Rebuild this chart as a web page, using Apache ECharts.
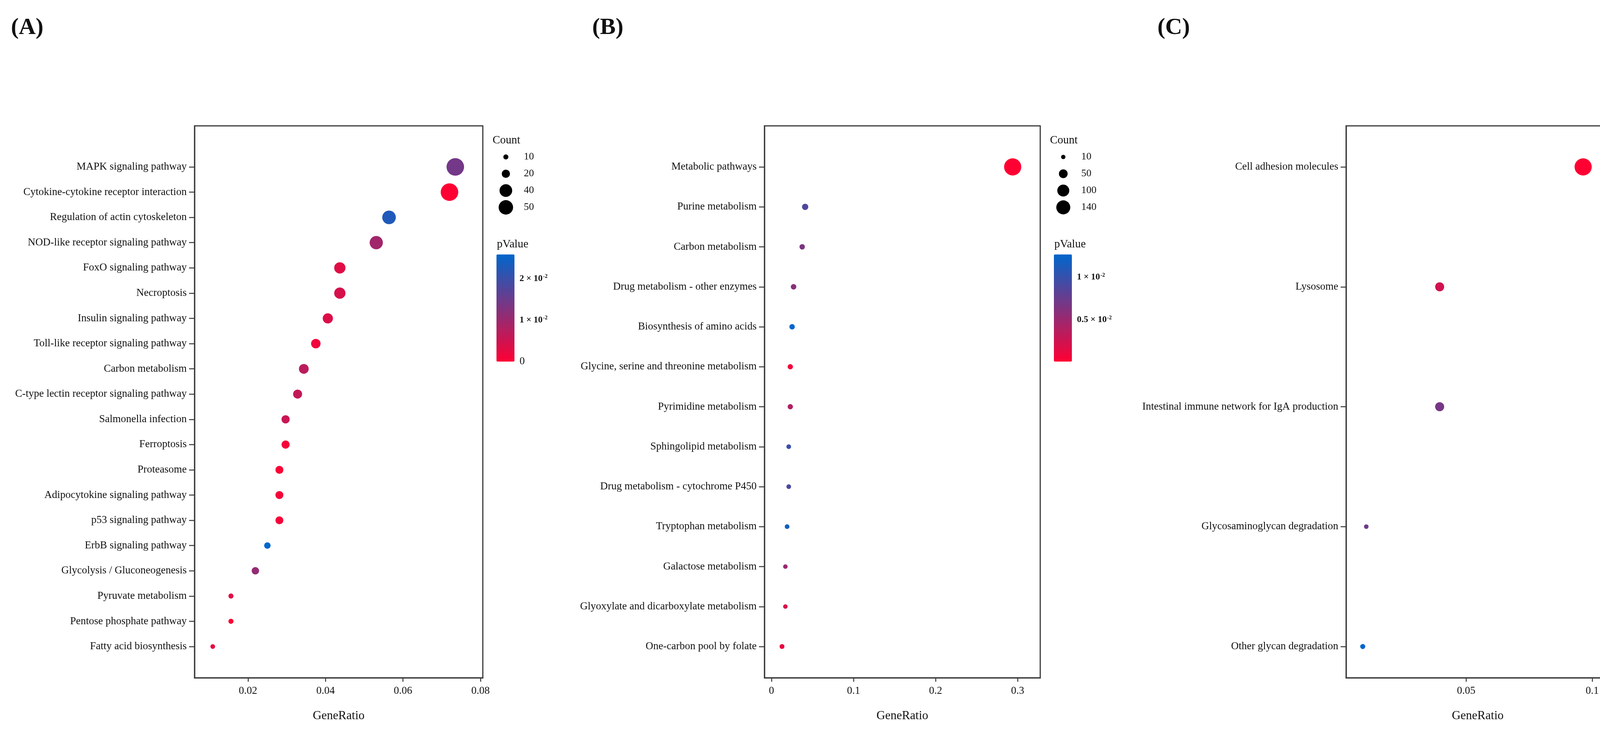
<!DOCTYPE html>
<html>
<head>
<meta charset="utf-8">
<title>KEGG enrichment dotplots</title>
<script src="https://cdn.jsdelivr.net/npm/echarts@6/dist/echarts.min.js"></script>
<style>
html, body { margin: 0; padding: 0; background: #fff; }
#main { width: 4338px; height: 1865px; }
</style>
</head>
<body>
<div id="main"></div>
<script>
// ---- panel A ----
var catsA = ['MAPK signaling pathway', 'Cytokine-cytokine receptor interaction', 'Regulation of actin cytoskeleton',
  'NOD-like receptor signaling pathway', 'FoxO signaling pathway', 'Necroptosis', 'Insulin signaling pathway',
  'Toll-like receptor signaling pathway', 'Carbon metabolism', 'C-type lectin receptor signaling pathway',
  'Salmonella infection', 'Ferroptosis', 'Proteasome', 'Adipocytokine signaling pathway', 'p53 signaling pathway',
  'ErbB signaling pathway', 'Glycolysis / Gluconeogenesis', 'Pyruvate metabolism', 'Pentose phosphate pathway',
  'Fatty acid biosynthesis'];
var ratioA = [0.0735, 0.0720, 0.0564, 0.0531, 0.0437, 0.0437, 0.0406, 0.0375, 0.0344, 0.0328,
  0.0297, 0.0297, 0.0281, 0.0281, 0.0281, 0.0250, 0.0219, 0.0156, 0.0156, 0.0109];
var countA = [70, 70, 45, 43, 33, 33, 28, 25, 26, 23, 20, 20, 19, 19, 19, 14, 17, 10, 10, 9];
var pvalA = [0.0142, 0, 0.0227, 0.0095, 0.0031, 0.0041, 0.0035, 0.0015, 0.0070, 0.0061,
  0.0056, 0.0010, 0.0005, 0.0010, 0.0010, 0.0258, 0.0108, 0.0030, 0.0005, 0.0023];
var xTicksA = [0.02, 0.04, 0.06, 0.08];
var sizeBreaksA = [10, 20, 40, 50];
var pTicksA = [0, 0.01, 0.02];
var pTickLabelsA = ['0', '1 × 10^-2', '2 × 10^-2'];

// ---- panel B ----
var catsB = ['Metabolic pathways', 'Purine metabolism', 'Carbon metabolism', 'Drug metabolism - other enzymes',
  'Biosynthesis of amino acids', 'Glycine, serine and threonine metabolism', 'Pyrimidine metabolism',
  'Sphingolipid metabolism', 'Drug metabolism - cytochrome P450', 'Tryptophan metabolism',
  'Galactose metabolism', 'Glyoxylate and dicarboxylate metabolism', 'One-carbon pool by folate'];
var ratioB = [0.294, 0.041, 0.0374, 0.0269, 0.0251, 0.0229, 0.0229, 0.021, 0.021, 0.019, 0.0169, 0.0169, 0.0128];
var countB = [215, 24, 17, 18, 17, 16, 16, 12, 12, 12, 11, 11, 13];
var pvalB = [0.00012, 0.0088, 0.0066, 0.0059, 0.01266, 0.00085, 0.0040, 0.0098, 0.0090, 0.0117, 0.0051, 0.0020, 0.0012];
var xTicksB = [0, 0.1, 0.2, 0.3];
var sizeBreaksB = [10, 50, 100, 140];
var pTicksB = [0.005, 0.01];
var pTickLabelsB = ['0.5 × 10^-2', '1 × 10^-2'];

// ---- panel C ----
var catsC = ['Cell adhesion molecules', 'Lysosome', 'Intestinal immune network for IgA production',
  'Glycosaminoglycan degradation', 'Other glycan degradation'];
var ratioC = [0.0964, 0.0395, 0.0395, 0.0104, 0.0090];
var countC = [116, 33, 33, 9, 11];
var pvalC = [0.0007, 0.0013, 0.0025, 0.0026, 0.00405];
var xTicksC = [0.05, 0.1];
var sizeBreaksC = [10, 30, 60, 80];
var pTicksC = [0.001, 0.002, 0.003, 0.004];
var pTickLabelsC = ['1 × 10^-3', '2 × 10^-3', '3 × 10^-3', '4 × 10^-3'];

var FONT = '"Liberation Serif", "Times New Roman", serif';
var INK = '#111111';
var FRAME = '#3a3a3a';
var LOW = '#FF0033', HIGH = '#0066CC';
var PLOT_TOP = 322, PLOT_H = 1412, PAD_TOP = 105, PAD_BOTTOM = 80;

// layout + size scale (diameter = a + b*sqrt(count)) per panel
var panels = [
  { tag: '(A)', tagLeft: 28, left: 498, right: 1236, xMin: 0.0062, xMax: 0.0806,
    cats: catsA, ratio: ratioA, count: countA, pval: pvalA, xTicks: xTicksA,
    breaks: sizeBreaksA, pTicks: pTicksA, pLabels: pTickLabelsA, sa: -6.4, sb: 6.14 },
  { tag: '(B)', tagLeft: 1516, left: 1957, right: 2663, xMin: -0.0086, xMax: 0.3276,
    cats: catsB, ratio: ratioB, count: countB, pval: pvalB, xTicks: xTicksB,
    breaks: sizeBreaksB, pTicks: pTicksB, pLabels: pTickLabelsB, sa: 2.11, sb: 2.855 },
  { tag: '(C)', tagLeft: 2963, left: 3446, right: 4120, xMin: 0.0024, xMax: 0.1068,
    cats: catsC, ratio: ratioC, count: countC, pval: pvalC, xTicks: xTicksC,
    breaks: sizeBreaksC, pTicks: pTicksC, pLabels: pTickLabelsC, sa: -0.77, sb: 4.148 }
];

var option = {
  backgroundColor: '#ffffff',
  animation: false,
  title: [], grid: [], xAxis: [], yAxis: [], series: [], visualMap: []
};

function txt(size, weight) {
  return { fontFamily: FONT, fontSize: size, fontWeight: weight || 'normal', color: INK };
}

panels.forEach(function (p) {
  var n = p.cats.length;
  var spacing = (PLOT_H - PAD_TOP - PAD_BOTTOM) / (n - 1);
  var idx = p.cats.map(function (c, i) { return i; });
  var R = p.right;
  var sizeFn = function (c) { return p.sa + p.sb * Math.sqrt(c); };
  var pMin = Math.min.apply(null, p.pval), pMax = Math.max.apply(null, p.pval);

  option.title.push(
    { text: p.tag, left: p.tagLeft, top: 41, padding: 0, textStyle: txt(60, 'bold') },
    { text: 'Count', left: R + 25, top: 345, padding: 0, textStyle: txt(29) },
    { text: 'pValue', left: R + 36, top: 611, padding: 0, textStyle: txt(29) }
  );

  // main plot
  var g = option.grid.length;
  option.grid.push({ left: p.left, top: PLOT_TOP, width: R - p.left, height: PLOT_H,
    show: true, borderColor: FRAME, borderWidth: 3, backgroundColor: 'transparent' });
  option.xAxis.push({
    gridIndex: g, type: 'value', min: p.xMin, max: p.xMax,
    name: 'GeneRatio', nameLocation: 'middle', nameGap: 82, nameTextStyle: txt(31),
    axisLine: { show: true, onZero: false, lineStyle: { color: FRAME, width: 3 } },
    axisTick: { show: true, length: 10, customValues: p.xTicks, lineStyle: { color: FRAME, width: 2.5 } },
    axisLabel: { customValues: p.xTicks, margin: 20, formatter: function (v) { return String(v); }, fontFamily: FONT, fontSize: 27, color: INK },
    splitLine: { show: false }
  });
  option.yAxis.push({
    gridIndex: g, type: 'value', inverse: true,
    min: -PAD_TOP / spacing, max: (n - 1) + PAD_BOTTOM / spacing,
    axisLine: { show: true, onZero: false, lineStyle: { color: FRAME, width: 3 } },
    axisTick: { show: true, length: 14, customValues: idx, lineStyle: { color: FRAME, width: 2.5 } },
    axisLabel: { customValues: idx, margin: 20, formatter: function (v) { return p.cats[Math.round(v)]; },
      fontFamily: FONT, fontSize: 27, color: INK },
    splitLine: { show: false }
  });
  var sIdx = option.series.length;
  option.series.push({
    type: 'scatter', xAxisIndex: g, yAxisIndex: g,
    data: p.cats.map(function (c, i) { return [p.ratio[i], i, p.count[i], p.pval[i], c]; }),
    symbolSize: function (val) { return sizeFn(val[2]); },
    itemStyle: { opacity: 1 }
  });
  option.visualMap.push({
    type: 'continuous', seriesIndex: sIdx, dimension: 3, min: pMin, max: pMax,
    inRange: { color: [LOW, HIGH] }, calculable: false, hoverLink: false,
    left: R + 35, top: 651, itemWidth: 46, itemHeight: 274, padding: 0
  });

  // size legend
  var gl = option.grid.length;
  var bIdx = p.breaks.map(function (b, i) { return i; });
  option.grid.push({ left: R + 21, top: 380, width: 76, height: 172 });
  option.xAxis.push({ gridIndex: gl, type: 'value', min: 0, max: 1, show: false });
  option.yAxis.push({
    gridIndex: gl, type: 'value', inverse: true, min: -0.5, max: p.breaks.length - 0.5, position: 'right',
    axisLine: { show: false }, axisTick: { show: false }, splitLine: { show: false },
    axisLabel: { customValues: bIdx, margin: 8, formatter: function (v) { return String(p.breaks[Math.round(v)]); },
      fontFamily: FONT, fontSize: 26, color: INK }
  });
  option.series.push({
    type: 'scatter', xAxisIndex: gl, yAxisIndex: gl, silent: true,
    data: p.breaks.map(function (b, i) { return [0.5, i, b]; }),
    symbolSize: function (val) { return sizeFn(val[2]); },
    itemStyle: { color: '#000000', opacity: 1 }
  });

  // colorbar tick labels
  var gc = option.grid.length;
  option.grid.push({ left: R + 80, top: 651, width: 2, height: 274 });
  option.xAxis.push({ gridIndex: gc, type: 'value', min: 0, max: 1, show: false });
  option.yAxis.push({
    gridIndex: gc, type: 'value', min: pMin, max: pMax, position: 'right',
    axisLine: { show: false }, axisTick: { show: false }, splitLine: { show: false },
    axisLabel: {
      customValues: p.pTicks, margin: 12, showMinLabel: true, showMaxLabel: true,
      formatter: function (v) {
        var k = 0;
        p.pTicks.forEach(function (t, i) { if (Math.abs(t - v) < 1e-12) k = i; });
        var parts = p.pLabels[k].split('^');
        if (parts.length < 2) return '{z|' + parts[0] + '}';
        return '{m|' + parts[0] + '}{s|' + parts[1] + '}';
      },
      rich: {
        z: { fontFamily: FONT, fontSize: 27, color: INK },
        m: { fontFamily: FONT, fontSize: 23, fontWeight: 'bold', color: INK },
        s: { fontFamily: FONT, fontSize: 14, fontWeight: 'bold', color: INK, verticalAlign: 'top', padding: [0, 0, 10, 1] }
      }
    }
  });
});

var chart = echarts.init(document.getElementById('main'), null, { renderer: 'canvas' });
chart.setOption(option);
window.addEventListener('resize', function () { chart.resize(); });
</script>
</body>
</html>
